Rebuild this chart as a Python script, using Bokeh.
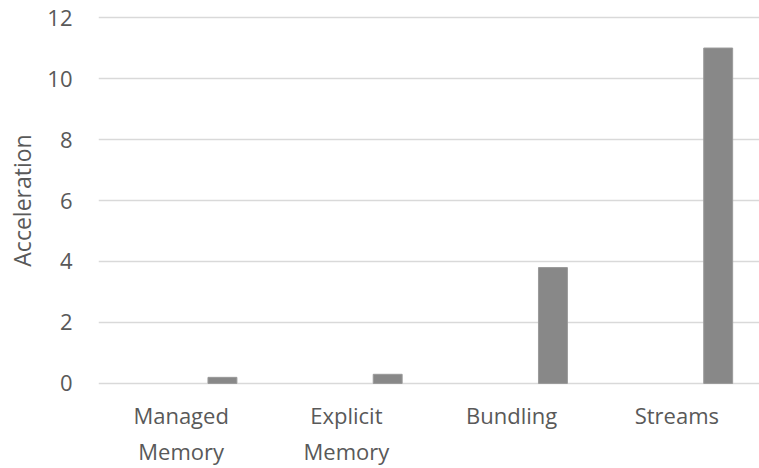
from bokeh.plotting import figure
from bokeh.models import ColumnDataSource, Range1d, FixedTicker
from bokeh.transform import dodge
from bokeh.embed import file_html
from bokeh.resources import INLINE

categories = ["Managed\nMemory", "Explicit\nMemory", "Bundling", "Streams"]
acceleration = [0.2, 0.3, 3.8, 11.0]
y_ticks = [0, 2, 4, 6, 8, 10, 12]

source = ColumnDataSource(dict(cat=categories, val=acceleration))

TEXT = "#595959"
FONT = "Open Sans"

p = figure(x_range=categories, y_range=Range1d(-0.1, 12.1),
           width=759, height=468, output_backend="svg", toolbar_location=None,
           min_border_left=98, min_border_right=0, min_border_top=14, min_border_bottom=81)
p.x_range.range_padding = 0

p.vbar(x=dodge("cat", 0.25, range=p.x_range), top="val", width=0.175, source=source,
       fill_color="#888888", line_color="#9a9a9a", line_width=1)

p.outline_line_color = None
p.background_fill_color = "white"
p.border_fill_color = "white"

p.xgrid.grid_line_color = None
p.ygrid.grid_line_color = "#d9d9d9"
p.ygrid.grid_line_width = 1.3
p.yaxis.ticker = FixedTicker(ticks=y_ticks)

for ax in (p.xaxis, p.yaxis):
    ax.axis_line_color = None
    ax.major_tick_line_color = None
    ax.minor_tick_line_color = None
    ax.major_label_text_color = TEXT
    ax.major_label_text_font = FONT
    ax.major_label_text_font_size = "22px"

p.yaxis.major_label_standoff = 20
p.yaxis.axis_label = "Acceleration"
p.yaxis.axis_label_text_font = FONT
p.yaxis.axis_label_text_font_size = "23px"
p.yaxis.axis_label_text_font_style = "normal"
p.yaxis.axis_label_text_color = TEXT
p.yaxis.axis_label_standoff = 6

p.xaxis.major_label_standoff = 7

open("out.html", "w").write(file_html(p, INLINE))
